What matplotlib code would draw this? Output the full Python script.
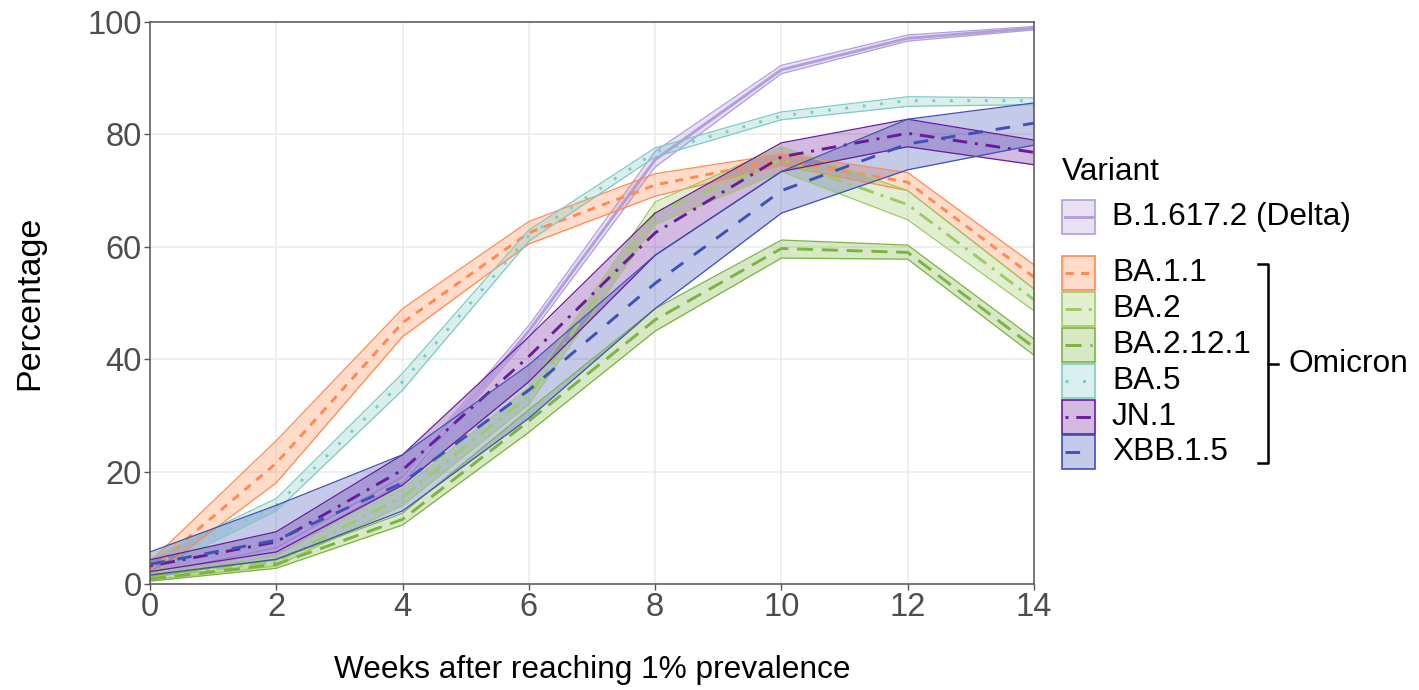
import matplotlib
matplotlib.use("Agg")
import matplotlib.pyplot as plt
from matplotlib.patches import Rectangle
from matplotlib.lines import Line2D

plt.rcParams["font.family"] = ["Liberation Sans", "DejaVu Sans"]

# weeks after a variant first reached 1% prevalence
weeks = [0, 2, 4, 6, 8, 10, 12, 14]

variants = ["B.1.617.2 (Delta)", "BA.1.1", "BA.2", "BA.2.12.1", "BA.5", "JN.1", "XBB.1.5"]

# percentage (mid estimate, lower and upper bound)
delta_mid = [1.5, 6.0, 18.5, 45.0, 75.5, 91.5, 97.1, 98.9]
delta_lo = [1.0, 5.2, 17.5, 44.0, 74.2, 90.8, 96.6, 98.6]
delta_hi = [2.0, 6.8, 19.5, 46.0, 77.0, 92.3, 97.7, 99.2]

ba11_mid = [2.5, 21.5, 46.5, 62.5, 71.0, 75.5, 71.5, 54.6]
ba11_lo = [1.2, 18.0, 44.0, 60.5, 69.0, 74.5, 70.0, 52.5]
ba11_hi = [4.0, 25.5, 49.0, 64.5, 73.0, 76.5, 73.2, 56.8]

ba2_mid = [1.2, 4.0, 15.5, 33.5, 66.0, 75.5, 67.5, 50.6]
ba2_lo = [0.7, 3.2, 14.0, 32.0, 64.0, 73.4, 64.8, 48.6]
ba2_hi = [1.8, 5.0, 17.0, 35.0, 68.0, 77.8, 70.0, 52.5]

ba2121_mid = [0.9, 3.5, 11.5, 29.0, 47.0, 59.7, 59.0, 42.1]
ba2121_lo = [0.5, 2.8, 10.5, 27.0, 45.0, 58.0, 57.8, 40.7]
ba2121_hi = [1.4, 4.3, 12.6, 31.0, 49.0, 61.2, 60.3, 43.6]

ba5_mid = [3.0, 14.0, 36.0, 62.0, 76.8, 83.3, 86.0, 86.0]
ba5_lo = [2.0, 13.0, 34.5, 61.0, 76.0, 82.6, 85.0, 85.3]
ba5_hi = [4.5, 15.2, 37.5, 63.0, 77.6, 84.0, 86.7, 86.5]

jn1_mid = [3.2, 7.5, 20.3, 40.5, 62.5, 76.0, 80.2, 76.8]
jn1_lo = [2.2, 5.7, 17.6, 36.0, 58.5, 73.4, 77.8, 74.6]
jn1_hi = [4.3, 9.3, 23.0, 44.0, 66.0, 78.5, 82.7, 79.0]

xbb_mid = [3.5, 7.8, 18.0, 34.5, 53.5, 70.0, 78.3, 82.0]
xbb_lo = [1.6, 4.4, 13.0, 29.5, 49.0, 66.0, 73.7, 78.1]
xbb_hi = [5.7, 14.0, 23.0, 39.0, 58.5, 73.4, 82.7, 85.6]

mids = [delta_mid, ba11_mid, ba2_mid, ba2121_mid, ba5_mid, jn1_mid, xbb_mid]
lows = [delta_lo, ba11_lo, ba2_lo, ba2121_lo, ba5_lo, jn1_lo, xbb_lo]
highs = [delta_hi, ba11_hi, ba2_hi, ba2121_hi, ba5_hi, jn1_hi, xbb_hi]

colors = ["#b39ddb", "#ff8a50", "#9ccc65", "#7cb342", "#80cbc4", "#6a1b9a", "#3f51b5"]
styles = [
    "-",
    (0, (2.8, 2.5)),
    (0, (5.5, 2.5, 1, 2.5)),
    (0, (5.5, 3)),
    (0, (1, 5)),
    (0, (1, 2.7, 5, 2.7)),
    (0, (5, 4.5)),
]

W, H = 1419, 690
fig = plt.figure(figsize=(W / 100, H / 100), dpi=100)
ax = fig.add_axes([150 / W, 1 - 584 / H, 884 / W, 562 / H])

for mid, lo, hi, col, ls in zip(mids, lows, highs, colors, styles):
    ax.fill_between(weeks, lo, hi, color=col, alpha=0.3, linewidth=0)
    ax.plot(weeks, lo, color=col, lw=0.9)
    ax.plot(weeks, hi, color=col, lw=0.9)
    ax.plot(weeks, mid, color=col, lw=2.1, linestyle=ls)

ax.set_xlim(0, 14)
ax.set_ylim(0, 100)
ax.set_xticks(range(0, 15, 2))
ax.set_yticks(range(0, 101, 20))
ax.grid(True, color="#ebebeb", lw=1.1)
ax.set_axisbelow(True)
for sp in ax.spines.values():
    sp.set_color("#555555")
    sp.set_linewidth(1.1)
ax.tick_params(colors="#555555", labelcolor="#4d4d4d", labelsize=23.5,
               length=4, width=1.0, pad=2)

ax.set_xlabel("Weeks after reaching 1% prevalence", fontsize=22.8, va="center")
ax.xaxis.set_label_coords(0.5, -0.153)
ax.set_ylabel("Percentage", fontsize=24.5, va="center")
ax.yaxis.set_label_coords(-0.136, 0.5)


# legend, drawn by hand in pixel positions of the figure
def fx(x):
    return x / W


def fy(y):
    return 1 - y / H


fig.text(fx(1062), fy(172), "Variant", fontsize=22.8, va="center", ha="left")

key_y = [217, 273, 309, 345, 381, 417, 452]
for name, col, ls, yc in zip(variants, colors, styles, key_y):
    fig.add_artist(Rectangle((fx(1062), fy(yc + 17)), 33 / W, 34 / H,
                             transform=fig.transFigure, facecolor=col,
                             alpha=0.3, edgecolor="none"))
    fig.add_artist(Rectangle((fx(1062), fy(yc + 17)), 33 / W, 34 / H,
                             transform=fig.transFigure, facecolor="none",
                             edgecolor=col, lw=1.2))
    fig.add_artist(Line2D([fx(1065), fx(1092)], [fy(yc), fy(yc)],
                          transform=fig.transFigure, color=col, lw=2.1,
                          linestyle=ls))
    fig.text(fx(1112), fy(yc), name, fontsize=22.8, va="center", ha="left")

# bracket grouping the Omicron lineages
bx = [fx(1258), fx(1268), fx(1268), fx(1258)]
by = [fy(264), fy(264), fy(463), fy(463)]
fig.add_artist(Line2D(bx, by, transform=fig.transFigure, color="black", lw=1.8))
fig.add_artist(Line2D([fx(1268), fx(1278)], [fy(364), fy(364)],
                      transform=fig.transFigure, color="black", lw=1.8))
fig.text(fx(1288), fy(364), "Omicron", fontsize=22.8, va="center", ha="left")

fig.savefig("out.png", dpi=100)
